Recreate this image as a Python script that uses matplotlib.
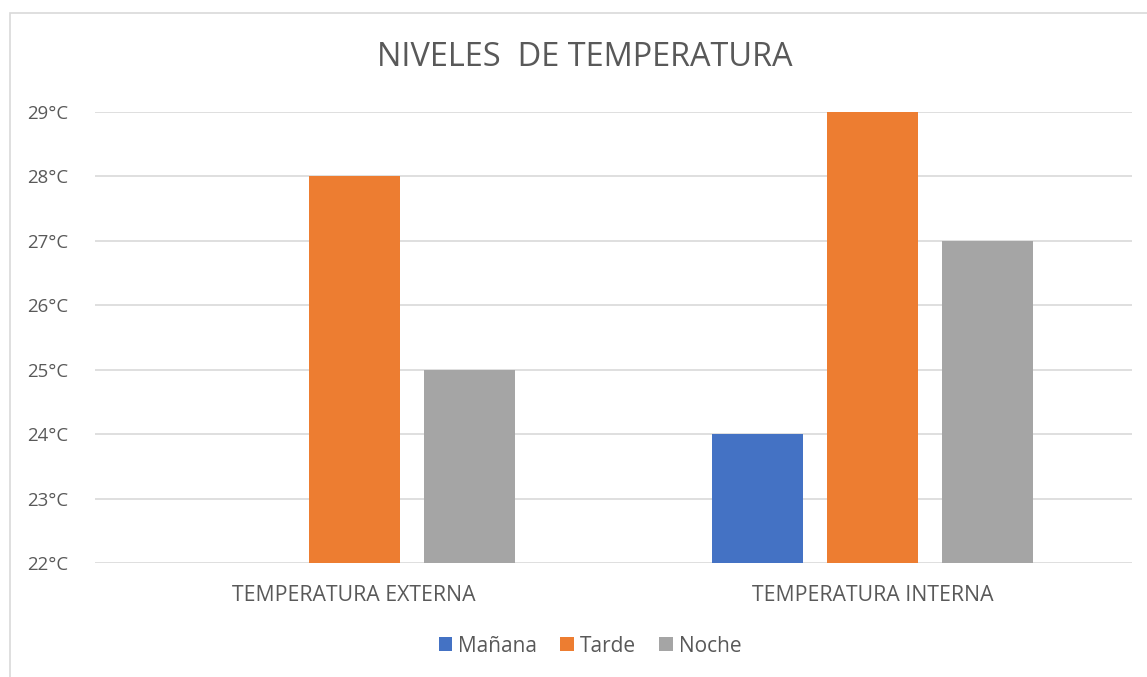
import numpy as np
from matplotlib import pyplot as plt
from matplotlib.patches import Rectangle

plt.rcParams['font.family'] = ['Open Sans', 'DejaVu Sans']

# chart data
categories = ["TEMPERATURA EXTERNA", "TEMPERATURA INTERNA"]
series = ["Mañana", "Tarde", "Noche"]
manana = [22, 24]
tarde = [28, 29]
noche = [25, 27]
y_ticks = [22, 23, 24, 25, 26, 27, 28, 29]
y_labels = [f"{t}°C" for t in y_ticks]

colors = ["#4472C4", "#ED7D31", "#A5A5A5"]
text_col = "#595959"
grid_col = "#D9D9D9"

W, H = 1147, 677
fig = plt.figure(figsize=(W / 100, H / 100), dpi=100)

# outer chart frame (only left/top visible in the reference)
fig.patches.append(Rectangle((10 / W, -0.1), 1.2, (H - 13) / H + 0.1,
                             transform=fig.transFigure, fill=False,
                             edgecolor=grid_col, linewidth=1.2))

ax = fig.add_axes([95 / W, 1 - 563 / H, (1132 - 95) / W, (563 - 112) / H])

x = np.arange(len(categories))
bw = 0.1755
step = 0.2218
for i, (vals, col) in enumerate(zip([manana, tarde, noche], colors)):
    ax.bar(x + (i - 1) * step, np.array(vals) - 22, bottom=22, width=bw,
           color=col, label=series[i], zorder=3, clip_on=False)

ax.set_xlim(-0.5, 1.5)
ax.set_ylim(22, 29)
ax.set_yticks(y_ticks)
ax.set_yticklabels(y_labels)
ax.set_xticks(x)
ax.set_xticklabels(categories)
ax.tick_params(axis='both', length=0, colors=text_col)
ax.tick_params(axis='y', pad=19.5, labelsize=13.4)
ax.tick_params(axis='x', pad=16, labelsize=15.3)
ax.grid(axis='y', color=grid_col, linewidth=1.2, zorder=0)
for s in ax.spines.values():
    s.set_visible(False)

fig.text(585 / W, 1 - 57 / H, "NIVELES  DE TEMPERATURA", ha='center', va='center',
         fontsize=23.4, color=text_col)

handles, labels = ax.get_legend_handles_labels()
fig.legend(handles, labels, loc='center', bbox_to_anchor=(590 / W, 1 - 646 / H),
           ncol=3, frameon=False, fontsize=15, labelcolor=text_col,
           handlelength=0.65, handleheight=0.65, handletextpad=0.3,
           columnspacing=1.1)

fig.savefig("out.png", dpi=100)
